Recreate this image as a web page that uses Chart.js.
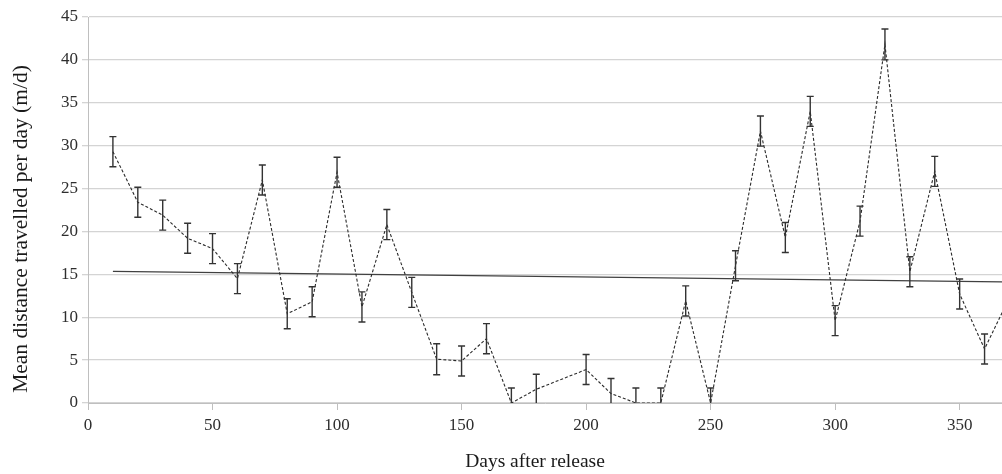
<!DOCTYPE html>
<html>
<head>
<meta charset="utf-8">
<script src="https://cdn.jsdelivr.net/npm/chart.js@4"></script>
<style>
  html, body { margin: 0; padding: 0; background: #fff; }
  #wrap { width: 1002px; height: 474px; }
</style>
</head>
<body>
<div id="wrap"><canvas id="chartCanvas" width="1002" height="474"></canvas></div>
<script>
// Days after release (no sample at day 190)
const days = [10, 20, 30, 40, 50, 60, 70, 80, 90, 100, 110, 120, 130, 140, 150, 160, 170, 180,
              200, 210, 220, 230, 240, 250, 260, 270, 280, 290, 300, 310, 320, 330, 340, 350, 360, 370];
// Mean distance travelled per day (m/d)
const meanDist = [29.3, 23.4, 21.9, 19.2, 18.0, 14.5, 26.0, 10.4, 11.8, 26.9, 11.2, 20.8, 12.9, 5.1, 4.9, 7.5, 0.0, 1.6,
                  3.9, 1.1, 0.0, 0.0, 11.9, 0.0, 16.0, 31.7, 19.3, 34.0, 9.6, 21.2, 41.8, 15.3, 27.0, 12.7, 6.3, 12.3];
// Half-length of the error bars
const errDist = [1.75, 1.75, 1.75, 1.75, 1.75, 1.75, 1.75, 1.75, 1.75, 1.75, 1.75, 1.75, 1.75, 1.8, 1.75, 1.75, 1.75, 1.75,
                 1.75, 1.75, 1.75, 1.75, 1.75, 1.75, 1.75, 1.75, 1.75, 1.75, 1.75, 1.75, 1.8, 1.75, 1.75, 1.75, 1.75, 0];
// Linear trend line end points
const trendX = [10, 370];
const trendY = [15.35, 14.1];

const xTicks = [0, 50, 100, 150, 200, 250, 300, 350];
const yTitle = 'Mean distance travelled per day (m/d)';
const xTitle = 'Days after release';

const serif = '"Liberation Serif", "Times New Roman", serif';

// draws the vertical error bars using the chart's own scales
const errorBars = {
  id: 'errorBars',
  afterDatasetsDraw(chart) {
    const ctx = chart.ctx;
    const x = chart.scales.x, y = chart.scales.y;
    const area = chart.chartArea;
    ctx.save();
    ctx.beginPath();
    ctx.rect(area.left, area.top - 5, area.right - area.left, area.bottom - area.top + 5);
    ctx.clip();
    ctx.strokeStyle = '#333';
    ctx.lineWidth = 1.4;
    days.forEach((d, i) => {
      if (!errDist[i]) return;
      const px = x.getPixelForValue(d);
      const top = y.getPixelForValue(meanDist[i] + errDist[i]);
      const bot = y.getPixelForValue(meanDist[i] - errDist[i]);
      ctx.beginPath();
      ctx.moveTo(px, top); ctx.lineTo(px, bot);
      ctx.moveTo(px - 3.5, top); ctx.lineTo(px + 3.5, top);
      if (meanDist[i] - errDist[i] > 0) {
        ctx.moveTo(px - 3.5, bot); ctx.lineTo(px + 3.5, bot);
      }
      ctx.stroke();
    });
    ctx.restore();
  }
};

// axis titles, placed as in the original figure (not centred on the plot)
const axisTitles = {
  id: 'axisTitles',
  afterDraw(chart) {
    const ctx = chart.ctx;
    ctx.save();
    ctx.fillStyle = '#1a1a1a';
    ctx.textAlign = 'center';
    ctx.textBaseline = 'middle';
    ctx.font = '19.5px ' + serif;
    ctx.fillText(xTitle, 535, 462);
    ctx.translate(21, 229);
    ctx.rotate(-Math.PI / 2);
    ctx.font = '21.5px ' + serif;
    ctx.fillText(yTitle, 0, 0);
    ctx.restore();
  }
};

const ctx = document.getElementById('chartCanvas').getContext('2d');
new Chart(ctx, {
  type: 'scatter',
  data: {
    datasets: [
      {
        data: days.map((d, i) => ({ x: d, y: meanDist[i] })),
        showLine: true,
        borderColor: '#2a2a2a',
        borderWidth: 1.1,
        borderDash: [3, 2],
        pointRadius: 0,
        fill: false
      },
      {
        data: trendX.map((d, i) => ({ x: d, y: trendY[i] })),
        showLine: true,
        borderColor: '#404040',
        borderWidth: 1.3,
        pointRadius: 0,
        fill: false
      }
    ]
  },
  options: {
    responsive: false,
    animation: false,
    layout: { padding: { top: 17, right: 0, left: 0, bottom: 0 } },
    plugins: {
      legend: { display: false },
      tooltip: { enabled: false }
    },
    scales: {
      x: {
        type: 'linear',
        min: 0,
        max: 367,
        afterBuildTicks: s => { s.ticks = xTicks.map(v => ({ value: v })); },
        afterFit: s => { s.height = 71; },
        grid: { drawOnChartArea: false, drawTicks: true, tickLength: 7, color: '#bfbfbf' },
        border: { color: '#bfbfbf', width: 1 },
        ticks: { font: { family: serif, size: 17 }, color: '#2e2e2e', padding: 5, maxRotation: 0 }
      },
      y: {
        min: 0,
        max: 45,
        afterFit: s => { s.width = 88; },
        ticks: { stepSize: 5, font: { family: serif, size: 17 }, color: '#2e2e2e', padding: 4 },
        grid: { color: '#d4d4d4', lineWidth: 1.3, tickLength: 6 },
        border: { color: '#bfbfbf', width: 1 }
      }
    }
  },
  plugins: [errorBars, axisTitles]
});
</script>
</body>
</html>
